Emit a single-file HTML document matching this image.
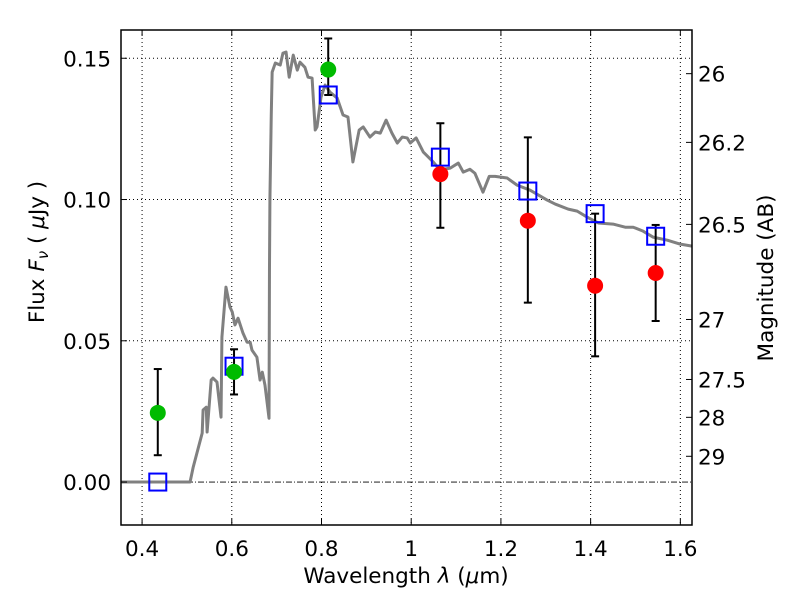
<!DOCTYPE html>
<html><head><meta charset="utf-8"><style>
html,body{margin:0;padding:0;background:#fff;}
svg text{font-family:"DejaVu Sans","Liberation Sans",sans-serif;}
</style></head><body>
<svg id="chart" width="800" height="600" xmlns="http://www.w3.org/2000/svg">
<rect width="800" height="600" fill="#fff"/>
<g id="grid"></g>
<g id="plot"></g>
<g id="axes"></g>
<text x="406" y="583" font-size="21.5" text-anchor="middle">Wavelength  <tspan font-style="italic">λ</tspan> (<tspan font-style="italic">μ</tspan>m)</text>
<text transform="translate(44,252) rotate(-90)" font-size="21.5" text-anchor="middle">Flux  <tspan font-style="italic">F<tspan font-size="15" dy="4">ν</tspan></tspan><tspan dy="-4">  (  </tspan><tspan font-style="italic">μ</tspan>Jy )</text>
<text transform="translate(773,278) rotate(-90)" font-size="21.5" text-anchor="middle">Magnitude (AB)</text>
</svg>
<script>
const xTicks=[0.4,0.6,0.8,1.0,1.2,1.4,1.6];
const xTickLabels=["0.4","0.6","0.8","1","1.2","1.4","1.6"];
const yTicks=[0,0.05,0.10,0.15];
const yTickLabels=["0.00","0.05","0.10","0.15"];
const magTicks=[26,26.2,26.5,27,27.5,28,29];
const magTickLabels=["26","26.2","26.5","27","27.5","28","29"];
const sedWave=[0.353,0.507,0.514,0.534,0.536,0.543,0.545,0.554,0.558,0.567,0.576,0.578,0.587,0.596,0.601,0.607,0.614,0.625,0.634,0.641,0.645,0.656,0.663,0.668,0.674,0.683,0.684,0.685,0.688,0.690,0.697,0.708,0.714,0.721,0.728,0.737,0.746,0.752,0.763,0.770,0.779,0.786,0.790,0.799,0.808,0.819,0.835,0.848,0.859,0.870,0.884,0.893,0.908,0.920,0.931,0.944,0.957,0.969,0.980,0.991,0.998,1.011,1.027,1.049,1.064,1.087,1.105,1.116,1.131,1.142,1.160,1.174,1.187,1.214,1.236,1.265,1.303,1.321,1.350,1.370,1.392,1.417,1.450,1.477,1.495,1.517,1.539,1.571,1.600,1.626];
const sedFlux=[0,0,0.0053,0.0173,0.0255,0.0265,0.0177,0.0361,0.0368,0.0354,0.0230,0.0513,0.0690,0.0619,0.0602,0.0556,0.0580,0.0527,0.0495,0.0495,0.0467,0.0442,0.0361,0.0389,0.0343,0.0226,0.075,0.10,0.13,0.1451,0.1483,0.1476,0.1518,0.1522,0.1433,0.1511,0.1458,0.1486,0.1468,0.1433,0.1430,0.1246,0.1257,0.1363,0.1405,0.1380,0.1359,0.1299,0.1292,0.1133,0.1246,0.1257,0.1221,0.1239,0.1235,0.1281,0.1235,0.1200,0.1221,0.1218,0.1200,0.1218,0.1168,0.1133,0.1105,0.1111,0.1129,0.1097,0.1107,0.1093,0.1026,0.1082,0.1082,0.1076,0.1051,0.1033,0.0998,0.0984,0.0966,0.0959,0.0938,0.0917,0.0913,0.0902,0.0902,0.0888,0.0867,0.0856,0.0842,0.0835];
const greenWave=[0.435,0.605,0.815];
const greenFlux=[0.0245,0.039,0.146];
const greenLo=[0.0095,0.031,0.137];
const greenHi=[0.040,0.047,0.157];
const redWave=[1.065,1.26,1.41,1.545];
const redFlux=[0.109,0.0925,0.0695,0.074];
const redLo=[0.090,0.0635,0.0445,0.057];
const redHi=[0.127,0.122,0.095,0.091];
const modelWave=[0.435,0.605,0.815,1.065,1.26,1.41,1.545];
const modelFlux=[0.0,0.041,0.137,0.115,0.103,0.095,0.087];

const L=121,R=692,T=30,B=525;
const X0=0.353,X1=1.626,Y0=-0.0152,Y1=0.16;
const sx=v=>L+(v-X0)/(X1-X0)*(R-L);
const sy=v=>B-(v-Y0)/(Y1-Y0)*(B-T);
const magToFlux=m=>Math.pow(10,(23.9-m)/2.5);
const NS="http://www.w3.org/2000/svg";
function mk(tag,attrs,parent){const e=document.createElementNS(NS,tag);for(const k in attrs)e.setAttribute(k,attrs[k]);parent.appendChild(e);return e;}
const grid=document.getElementById('grid'),plot=document.getElementById('plot'),axes=document.getElementById('axes');

xTicks.forEach((t,i)=>{
  const x=sx(t);
  const g=mk('line',{x1:x,x2:x,y1:T,y2:B,stroke:'#000','stroke-width':1,'stroke-dasharray':'1,3'},grid);
  
  
  mk('line',{x1:x,x2:x,y1:B,y2:B-6,stroke:'#000','stroke-width':1},axes);
  mk('line',{x1:x,x2:x,y1:T,y2:T+6,stroke:'#000','stroke-width':1},axes);
  const tx=mk('text',{x:x,y:B+31,'font-size':21.5,'text-anchor':'middle'},axes);
  tx.textContent=xTickLabels[i];
  
  
});
yTicks.forEach((t,i)=>{
  const y=sy(t);
  if(t!==0){
    const g=mk('line',{x1:L,x2:R,y1:y,y2:y,stroke:'#000','stroke-width':1,'stroke-dasharray':'1,3'},grid);
    
    
  }
  mk('line',{x1:L,x2:L+6,y1:y,y2:y,stroke:'#000','stroke-width':1},axes);
  const tx=mk('text',{x:L-10,y:y+8,'font-size':21.5,'text-anchor':'end'},axes);
  tx.textContent=yTickLabels[i];
  
  
});
const zl=mk('line',{x1:L,x2:R,y1:sy(0),y2:sy(0),stroke:'#000','stroke-width':0.8,'stroke-dasharray':'6,2,1,2'},grid);


magTicks.forEach((m,i)=>{
  const y=sy(magToFlux(m));
  mk('line',{x1:R-6,x2:R,y1:y,y2:y,stroke:'#000','stroke-width':1},axes);
  const tx=mk('text',{x:R+6,y:y+8,'font-size':21.5},axes);
  tx.textContent=magTickLabels[i];
  
  
});

const sed=mk('polyline',{points:sedWave.map((w,i)=>sx(w)+','+sy(sedFlux[i])).join(' '),fill:'none',stroke:'#808080','stroke-width':3,'stroke-linejoin':'round'},plot);



function errs(wv,lo,hi,name){
  wv.forEach((w,i)=>{
    const x=sx(w);
    const g=mk('g',{stroke:'#000','stroke-width':2},plot);
    
    
    mk('line',{x1:x,x2:x,y1:sy(lo[i]),y2:sy(hi[i])},g);
    mk('line',{x1:x-4,x2:x+4,y1:sy(lo[i]),y2:sy(lo[i])},g);
    mk('line',{x1:x-4,x2:x+4,y1:sy(hi[i]),y2:sy(hi[i])},g);
  });
}
errs(greenWave,greenLo,greenHi,'green-errorbar');
errs(redWave,redLo,redHi,'red-errorbar');
modelWave.forEach((w,i)=>{
  const s=mk('rect',{x:sx(w)-8.5,y:sy(modelFlux[i])-8.5,width:17,height:17,fill:'none',stroke:'#0000ff','stroke-width':2},plot);
  
  
});
greenWave.forEach((w,i)=>{
  const c=mk('circle',{cx:sx(w),cy:sy(greenFlux[i]),r:8,fill:'#00bb00'},plot);
  
  
});
redWave.forEach((w,i)=>{
  const c=mk('circle',{cx:sx(w),cy:sy(redFlux[i]),r:8,fill:'#ff0000'},plot);
  
  
});
const frame=mk('rect',{x:L,y:T,width:R-L,height:B-T,fill:'none',stroke:'#000','stroke-width':1.5},axes);


</script>
</body></html>
